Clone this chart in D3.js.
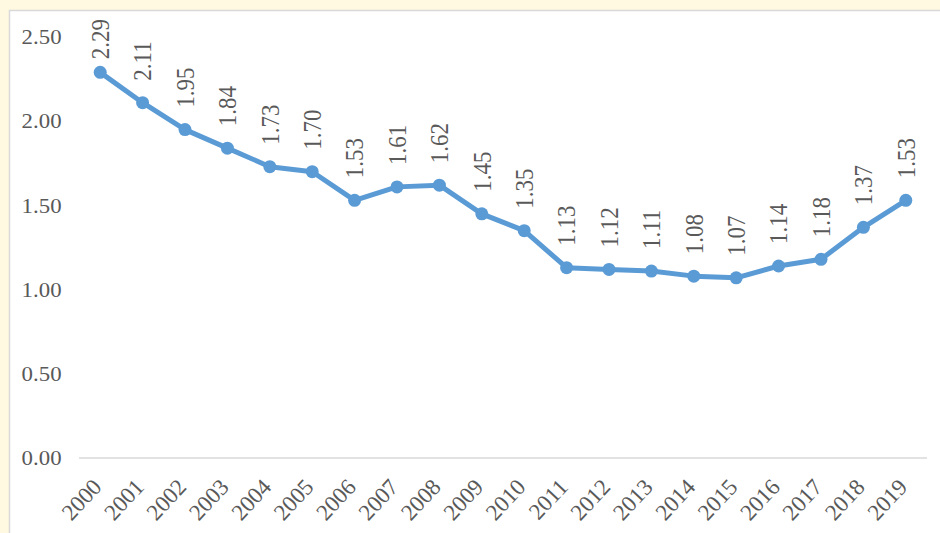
<!DOCTYPE html>
<html>
<head>
<meta charset="utf-8">
<script src="https://cdn.jsdelivr.net/npm/d3@7"></script>
<style>
  html, body { margin: 0; padding: 0; background: #fff9e1; }
  svg { display: block; }
</style>
</head>
<body>
<div id="chart"></div>
<script>
const years = ['2000', '2001', '2002', '2003', '2004', '2005', '2006', '2007', '2008', '2009',
  '2010', '2011', '2012', '2013', '2014', '2015', '2016', '2017', '2018', '2019'];
const values = [2.29, 2.11, 1.95, 1.84, 1.73, 1.70, 1.53, 1.61, 1.62, 1.45,
  1.35, 1.13, 1.12, 1.11, 1.08, 1.07, 1.14, 1.18, 1.37, 1.53];
const yTicks = [0, 0.5, 1.0, 1.5, 2.0, 2.5];

const W = 940;
const H = 533;
const plot = { left: 79, right: 927, top: 37, bottom: 458 };
const stretch = 1.088; // glyphs look a bit wide in the reference
const textColor = '#595959';
const font = '"Liberation Serif", "Times New Roman", serif';

const svg = d3.select('#chart').append('svg')
    .attr('width', W)
    .attr('height', H);

// white chart panel
svg.append('rect')
    .attr('x', 9.5)
    .attr('y', 10.5)
    .attr('width', W)
    .attr('height', H)
    .attr('fill', '#fff')
    .attr('stroke', '#d9d9d9')
    .attr('stroke-width', 1.5);

const x = d3.scaleBand()
    .domain(years)
    .range([plot.left, plot.right]);

const y = d3.scaleLinear()
    .domain([0, 2.5])
    .range([plot.bottom, plot.top]);

const cx = (d, i) => x(years[i]) + x.bandwidth() / 2;

// baseline
svg.append('line')
    .attr('x1', plot.left)
    .attr('x2', plot.right)
    .attr('y1', y(0))
    .attr('y2', y(0))
    .attr('stroke', '#d9d9d9')
    .attr('stroke-width', 1.5);

const yAxis = d3.axisLeft(y)
    .tickValues(yTicks)
    .tickSize(0)
    .tickPadding(16)
    .tickFormat(d3.format('.2f'));

svg.append('g')
    .attr('transform', `translate(${plot.left},0)`)
    .call(yAxis)
    .call((g) => g.select('.domain').remove())
    .selectAll('text')
      .attr('transform', `scale(${stretch},1)`)
      .style('font-family', font)
      .style('font-size', '21px')
      .style('fill', textColor);

const xAxis = d3.axisBottom(x)
    .tickSize(0);

svg.append('g')
    .attr('transform', `translate(0,${plot.bottom})`)
    .call(xAxis)
    .call((g) => g.select('.domain').remove())
    .selectAll('text')
      .attr('x', 0)
      .attr('y', 0)
      .attr('dy', 0)
      .attr('transform', 'translate(2.7,30) rotate(-47)')
      .style('text-anchor', 'end')
      .style('font-family', font)
      .style('font-size', '23px')
      .style('fill', textColor);

const line = d3.line()
    .x(cx)
    .y((d) => y(d));

svg.append('path')
    .datum(values)
    .attr('d', line)
    .attr('fill', 'none')
    .attr('stroke', '#5b9bd5')
    .attr('stroke-width', 5)
    .attr('stroke-linejoin', 'round');

svg.selectAll('.dot')
    .data(values)
  .enter()
    .append('circle')
    .attr('class', 'dot')
    .attr('cx', cx)
    .attr('cy', (d) => y(d))
    .attr('r', 6.5)
    .attr('fill', '#5b9bd5');

// value labels, rotated, kept inside the panel
const labels = svg.selectAll('.lbl')
    .data(values)
  .enter()
    .append('text')
    .attr('class', 'lbl')
    .attr('dy', '0.35em')
    .style('font-family', font)
    .style('font-size', '23px')
    .style('fill', textColor)
    .text((d) => d.toFixed(2));

labels.each(function (d, i) {
  const len = this.getComputedTextLength();
  const ly = Math.max(y(d) - 22, 19 + len);
  d3.select(this)
      .attr('transform', `translate(${cx(d, i)},${ly}) scale(${stretch},1) rotate(-90)`);
});
</script>
</body>
</html>
